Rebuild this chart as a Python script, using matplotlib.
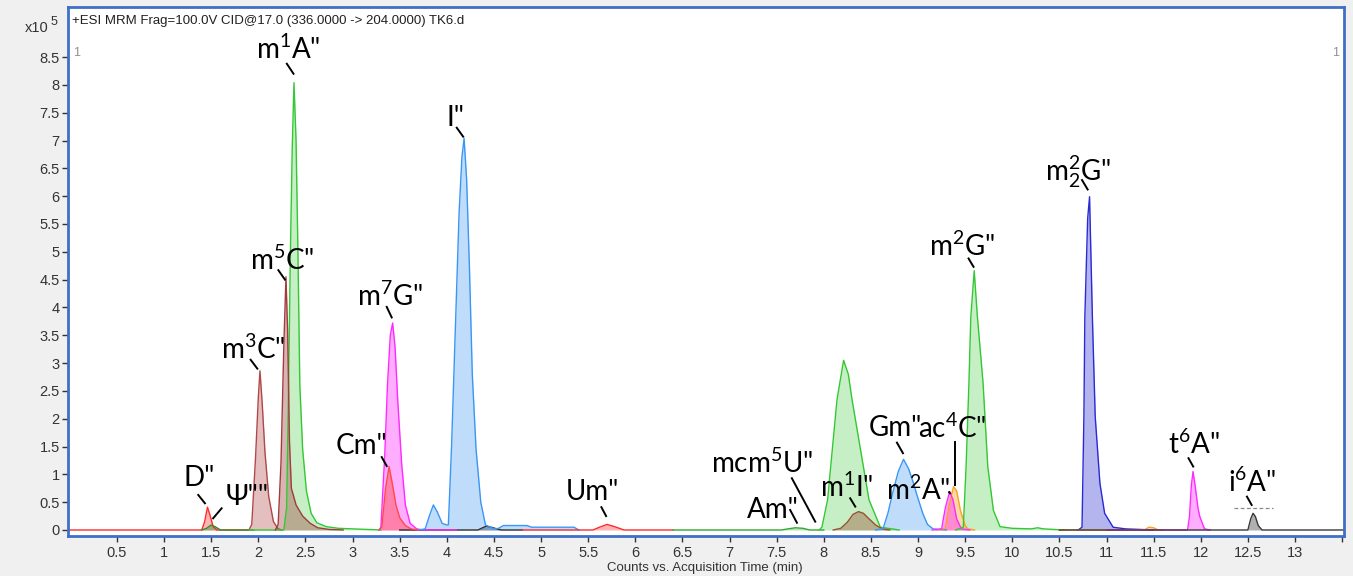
import matplotlib
matplotlib.use("Agg")
import matplotlib.pyplot as plt

# ---------------- data (time in min, intensity in x10^5 counts) ----------------
D_t = [0.0, 1.40, 1.43, 1.46, 1.49, 1.52, 1.56, 1.90]
D_v = [0, 0, 0.15, 0.41, 0.25, 0.06, 0, 0]
PSI_t = [1.40, 1.45, 1.50, 1.54, 1.60, 1.95]
PSI_v = [0, 0.03, 0.09, 0.06, 0, 0]
M3C_t = [1.90, 1.93, 1.97, 2.00, 2.017, 2.04, 2.07, 2.11, 2.16, 2.21, 2.25]
M3C_v = [0, 0.1, 1.3, 2.4, 2.86, 2.3, 1.4, 0.6, 0.15, 0.02, 0]
M5C_t = [2.18, 2.21, 2.24, 2.27, 2.293, 2.31, 2.33, 2.35, 2.40, 2.47, 2.55, 2.63, 2.75, 2.90]
M5C_v = [0, 0.1, 1.2, 3.3, 4.55, 3.6, 1.6, 0.75, 0.45, 0.25, 0.12, 0.04, 0.01, 0]
M1A_t = [1.90, 2.27, 2.30, 2.32, 2.34, 2.36, 2.378, 2.40, 2.42, 2.44, 2.47, 2.51, 2.56, 2.62,
         2.72, 2.85, 3.00, 3.30]
M1A_v = [0, 0, 0.4, 2.5, 5.0, 6.9, 8.04, 7.0, 5.0, 2.6, 1.45, 0.7, 0.3, 0.13, 0.06, 0.03, 0.02, 0]
CM_t = [3.28, 3.31, 3.35, 3.387, 3.42, 3.46, 3.50, 3.56, 3.62, 3.70]
CM_v = [0, 0.05, 0.75, 1.14, 0.85, 0.45, 0.22, 0.08, 0.02, 0]
M7G_t = [3.28, 3.30, 3.34, 3.37, 3.40, 3.425, 3.45, 3.48, 3.52, 3.56, 3.61, 3.68, 3.75, 4.10]
M7G_v = [0, 0.05, 1.3, 2.6, 3.5, 3.72, 3.3, 2.3, 1.2, 0.45, 0.12, 0.02, 0, 0]
I_t = [3.70, 3.77, 3.82, 3.857, 3.90, 3.95, 4.00, 4.016, 4.05, 4.09, 4.13, 4.16, 4.183, 4.21,
       4.24, 4.27, 4.31, 4.36, 4.41, 4.50, 4.55, 4.60, 4.85, 4.90, 5.35, 5.40]
I_v = [0, 0.02, 0.28, 0.45, 0.32, 0.12, 0.09, 0.09, 1.5, 3.6, 5.7, 6.7, 7.04, 6.3,
       4.7, 2.8, 1.45, 0.5, 0.09, 0.02, 0.03, 0.08, 0.08, 0.05, 0.05, 0]
X445_t = [3.50, 4.33, 4.38, 4.42, 4.47, 4.53, 4.58, 4.80]
X445_v = [0, 0, 0.04, 0.07, 0.05, 0.02, 0, 0]
UM_t = [4.80, 5.55, 5.62, 5.70, 5.78, 5.88, 6.40]
UM_v = [0, 0, 0.05, 0.10, 0.06, 0, 0]
AM_t = [6.40, 7.55, 7.62, 7.70, 7.78, 7.85, 8.00]
AM_v = [0, 0, 0.02, 0.04, 0.03, 0, 0]
M1G_t = [7.95, 7.98, 8.04, 8.09, 8.14, 8.21, 8.26, 8.30, 8.39, 8.48, 8.60, 8.80]
M1G_v = [0, 0.05, 0.54, 1.44, 2.34, 3.05, 2.8, 2.34, 1.44, 0.54, 0.05, 0]
M1I_t = [8.10, 8.18, 8.25, 8.31, 8.368, 8.42, 8.48, 8.55, 8.62, 8.70]
M1I_v = [0, 0.03, 0.14, 0.28, 0.33, 0.30, 0.20, 0.09, 0.02, 0]
GM_t = [8.55, 8.63, 8.68, 8.73, 8.79, 8.846, 8.90, 8.95, 8.99, 9.05, 9.10, 9.16, 9.30]
GM_v = [0, 0.03, 0.3, 0.66, 1.05, 1.27, 1.1, 0.85, 0.62, 0.3, 0.1, 0.02, 0]
M2A_t = [9.15, 9.25, 9.29, 9.335, 9.37, 9.41, 9.46, 9.55]
M2A_v = [0, 0.02, 0.4, 0.69, 0.55, 0.2, 0.02, 0]
AC4C_t = [9.20, 9.29, 9.33, 9.377, 9.41, 9.45, 9.50, 9.53, 9.60]
AC4C_v = [0, 0.03, 0.45, 0.78, 0.70, 0.35, 0.08, 0.02, 0]
M2G_t = [9.40, 9.48, 9.51, 9.54, 9.56, 9.596, 9.63, 9.69, 9.74, 9.80, 9.87, 10.00, 10.20,
         10.27, 10.33, 10.55]
M2G_v = [0, 0.05, 1.14, 2.64, 3.83, 4.66, 3.83, 2.64, 1.14, 0.35, 0.06, 0.03, 0.02, 0.04, 0.02, 0]
M22G_t = [10.70, 10.74, 10.76, 10.77, 10.80, 10.82, 10.85, 10.88, 10.93, 10.98, 11.07, 11.20, 11.50]
M22G_v = [0, 0.05, 2.04, 3.83, 5.6, 5.99, 3.83, 2.04, 0.84, 0.3, 0.05, 0.02, 0]
X1145_t = [10.50, 11.40, 11.45, 11.50, 11.55, 11.60]
X1145_v = [0, 0, 0.05, 0.04, 0, 0]
T6A_t = [11.00, 11.86, 11.88, 11.90, 11.918, 11.94, 11.97, 11.99, 12.04, 12.10]
T6A_v = [0, 0, 0.24, 0.8, 1.05, 0.8, 0.4, 0.24, 0.02, 0]
I6A_t = [10.50, 12.50, 12.53, 12.555, 12.58, 12.61, 12.65, 13.60]
I6A_v = [0, 0, 0.20, 0.30, 0.24, 0.08, 0, 0]

x_ticks = [0.5 * k for k in range(1, 28)]
x_tick_labels = [("%g" % v) if v <= 13 else "" for v in x_ticks]
y_ticks = [0.5 * k for k in range(0, 18)]
y_tick_labels = ["%g" % v for v in y_ticks]

header = "+ESI MRM Frag=100.0V CID@17.0 (336.0000 -> 204.0000) TK6.d"
xlabel = "Counts vs. Acquisition Time (min)"

# ---------------- styling ----------------
plt.rcParams['mathtext.default'] = 'regular'
FIG_BG = "#f0f0f0"
FRAME = "#3f6fc6"
TICKC = "#333333"

fig = plt.figure(figsize=(13.53, 5.76), dpi=100, facecolor=FIG_BG)
ax = fig.add_axes([68 / 1353, 1 - 536 / 576, (1344 - 68) / 1353, (536 - 7) / 576])
ax.set_facecolor("white")
ax.set_xlim(-0.02, 13.52)
ax.set_ylim(-0.108, 9.40)

traces = [
    (D_t, D_v, "#ff2a2a", 0.35),
    (PSI_t, PSI_v, "#2f8f2f", 0.45),
    (M3C_t, M3C_v, "#b04848", 0.35),
    (M1A_t, M1A_v, "#33c833", 0.28),
    (M5C_t, M5C_v, "#a03c3c", 0.38),
    (X445_t, X445_v, "#303030", 0.45),
    (M7G_t, M7G_v, "#ff2aff", 0.38),
    (CM_t, CM_v, "#ff4a4a", 0.45),
    (I_t, I_v, "#3a96f5", 0.32),
    (UM_t, UM_v, "#ff2a2a", 0.35),
    (AM_t, AM_v, "#2fa82f", 0.35),
    (M1G_t, M1G_v, "#33c833", 0.28),
    (M1I_t, M1I_v, "#9a5030", 0.40),
    (GM_t, GM_v, "#3a96f5", 0.32),
    (AC4C_t, AC4C_v, "#ffa020", 0.40),
    (M2A_t, M2A_v, "#ff2aff", 0.45),
    (M2G_t, M2G_v, "#33c833", 0.28),
    (M22G_t, M22G_v, "#2a2ad2", 0.35),
    (X1145_t, X1145_v, "#ffa020", 0.35),
    (T6A_t, T6A_v, "#ff2aff", 0.38),
    (I6A_t, I6A_v, "#3a3a3a", 0.40),
]
for t, v, c, a in traces:
    ax.fill_between(t, 0, v, color=c, alpha=a, linewidth=0)
    ax.plot(t, v, color=c, lw=1.0)

# ---------------- peak labels ----------------
LBL_FONT = ["Lato", "DejaVu Sans"]
labels = [
    ('m$^1$A"', (2.32, 8.63), ((2.302, 8.38), (2.373, 8.20))),
    ('I"', (4.09, 7.40), ((4.105, 7.23), (4.173, 7.07))),
    ('m$^5$C"', (2.25, 4.85), ((2.212, 4.67), (2.282, 4.50))),
    ('m$^3$C"', (1.94, 3.25), ((1.918, 3.06), (1.989, 2.90))),
    ('m$^7$G"', (3.40, 4.19), ((3.362, 4.01), (3.415, 3.82))),
    ('Cm"', (3.09, 1.51), ((3.309, 1.31), (3.362, 1.15))),
    ('D"', (1.37, 0.93), ((1.362, 0.63), (1.433, 0.48))),
    ('Ψ""', (1.88, 0.59), ((1.61, 0.39), (1.52, 0.21))),
    ('Um"', (5.54, 0.68), ((5.64, 0.41), (5.69, 0.25))),
    ('mcm$^5$U"', (7.34, 1.20), ((7.661, 0.93), (7.909, 0.15))),
    ('Am"', (7.46, 0.36), ((7.643, 0.36), (7.715, 0.13))),
    ('m$^1$I"', (8.24, 0.77), ((8.28, 0.57), (8.334, 0.42))),
    ('Gm"', (8.76, 1.83), ((8.776, 1.57), (8.840, 1.38))),
    ('ac$^4$C"', (9.36, 1.83), ((9.395, 1.59), (9.395, 0.81))),
    ('m$^2$A"', (9.00, 0.72), ((9.33, 0.68), (9.34, 0.66))),
    ('m$^2$G"', (9.47, 5.10), ((9.536, 4.88), (9.589, 4.73))),
    ('m$_2^2$G"', (10.70, 6.45), ((10.74, 6.29), (10.80, 6.12))),
    ('t$^6$A"', (11.93, 1.54), ((11.87, 1.29), (11.92, 1.14))),
    ('i$^6$A"', (12.54, 0.86), ((12.49, 0.60), (12.54, 0.45))),
]
for txt, (tx, ty), ((x1, y1), (x2, y2)) in labels:
    ax.text(tx, ty, txt, fontsize=20, family=LBL_FONT, ha="center", va="center",
            color="black", zorder=5)
    ax.plot([x1, x2], [y1, y2], color="black", lw=1.4, zorder=5)

# i6A dashed reference line
ax.plot([12.35, 12.77], [0.39, 0.39], color="#888888", lw=0.9, ls=(0, (3, 2)), zorder=4)

# ---------------- axes decoration ----------------
for s in ax.spines.values():
    s.set_color(FRAME)
    s.set_linewidth(2.0)
ax.set_xticks(x_ticks)
ax.set_xticklabels(x_tick_labels)
ax.set_yticks(y_ticks)
ax.set_yticklabels(y_tick_labels)
TICK_FONT = ["Liberation Sans Narrow", "Liberation Sans"]
ax.tick_params(axis="both", direction="out", length=4, width=1, color=TICKC,
               labelcolor=TICKC, labelsize=10.5)
ax.tick_params(axis="x", pad=3)
ax.tick_params(axis="y", pad=2)
for lab in ax.get_xticklabels() + ax.get_yticklabels():
    lab.set_family(TICK_FONT)

ax.text(0.003, 0.985, header, transform=ax.transAxes, fontsize=9.5,
        family=["Liberation Sans", "DejaVu Sans"], ha="left", va="top", color="#202020")
ax.text(0.004, 0.925, "1", transform=ax.transAxes, fontsize=9, color="#909090",
        ha="left", va="top", family=["Liberation Sans"])
ax.text(0.996, 0.925, "1", transform=ax.transAxes, fontsize=9, color="#909090",
        ha="right", va="top", family=["Liberation Sans"])

fig.text(25 / 1353, 1 - 28 / 576, "x10", fontsize=10.5, color=TICKC, ha="left", va="center",
         family=TICK_FONT)
fig.text(51 / 1353, 1 - 22 / 576, "5", fontsize=9, color=TICKC, ha="left", va="center",
         family=TICK_FONT)
fig.text(705 / 1353, 1 - 568 / 576, xlabel, fontsize=9.5, color=TICKC, ha="center",
         va="center", family=TICK_FONT)

fig.savefig("out.png", dpi=100, facecolor=FIG_BG)
